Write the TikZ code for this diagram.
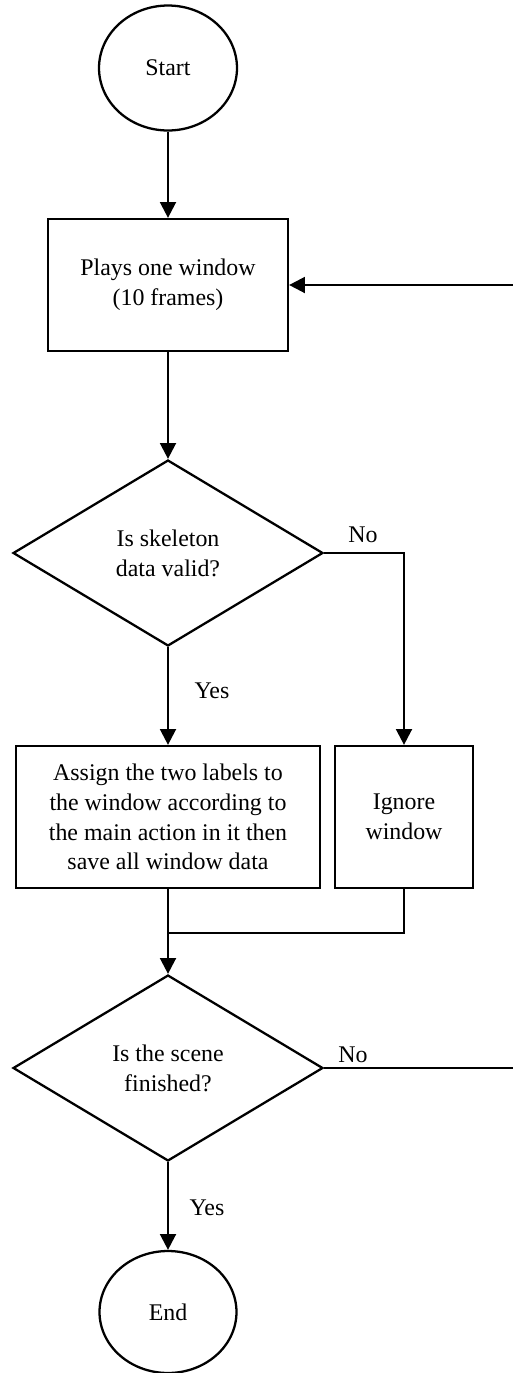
\documentclass[tikz,border=0pt]{standalone}
\usepackage{fontspec}
\setmainfont{Liberation Serif}
\usetikzlibrary{arrows.meta,shapes.geometric}

\begin{document}
\begin{tikzpicture}[x=0.02cm,y=-0.02cm]
        \useasboundingbox (0,0) rectangle (512,1373);

        \begin{scope}[every node/.style={draw=black,line width=1.3pt,inner sep=0pt,align=center,
                    font=\fontsize{13.6}{17}\selectfont}]
            \node[ellipse,minimum width=2.76cm,minimum height=2.5cm] (start) at (168,68) {Start};
            \node[rectangle,minimum width=4.8cm,minimum height=2.64cm] (play) at (168,285) {Plays one window\\(10 frames)};
            \node[diamond,aspect=1.67,minimum width=6.2cm,minimum height=3.72cm] (valid) at (168,553) {Is skeleton\\data valid?};
            \node[rectangle,minimum width=6.08cm,minimum height=2.84cm] (assign) at (168,817)
                {Assign the two labels to\\the window according to\\the main action in it then\\save all window data};
            \node[rectangle,minimum width=2.76cm,minimum height=2.84cm] (ignore) at (404,817) {Ignore\\window};
            \node[diamond,aspect=1.67,minimum width=6.2cm,minimum height=3.72cm] (finished) at (168,1068) {Is the scene\\finished?};
            \node[ellipse,minimum width=2.74cm,minimum height=2.44cm] (end) at (168,1312) {End};
        \end{scope}

        % answer labels
        \begin{scope}[every node/.style={inner sep=0pt,font=\fontsize{13.6}{17}\selectfont}]
            \node (no1) at (363,535) {No};
            \node (yes1) at (212,691) {Yes};
            \node (no2) at (353,1055) {No};
            \node (yes2) at (207,1208) {Yes};
        \end{scope}

        \coordinate (join) at (168,933);
        \coordinate (loopbot) at (514,1068);
        \coordinate (looptop) at (514,285);

        \begin{scope}[>={Triangle[length=9pt,width=9pt]},
                    every edge/.style={draw=black,line width=1.4pt}]
            \path [->] (start) edge (play);
            \path [->] (play) edge (valid);
            \path [->] (valid) edge (assign);
            \path [->] (assign) edge (finished);
            \path [->] (finished) edge (end);
            \draw [->,line width=1.4pt] (valid.east) -| (ignore.north);
            \draw [line width=1pt] (ignore.south) |- (join);
            \draw [->,line width=1.4pt] (finished.east) -- (loopbot) -- (looptop) -- (play.east);
        \end{scope}
    \end{tikzpicture}
\end{document}
